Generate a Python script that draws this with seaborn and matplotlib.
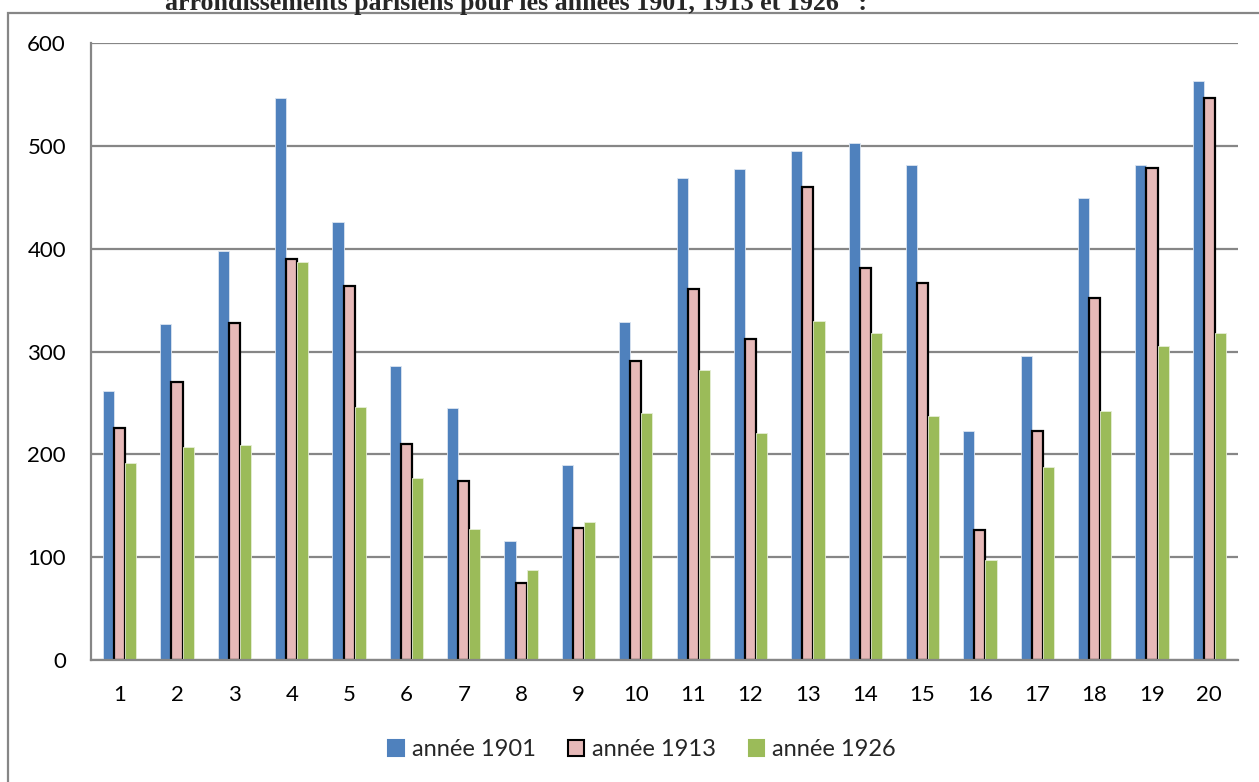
import pandas as pd
from matplotlib import pyplot as plt
from matplotlib.patches import Rectangle
import seaborn as sns

arrondissements = [str(i) for i in range(1, 21)]
years = ["année 1901", "année 1913", "année 1926"]
v1901 = [262, 327, 398, 547, 426, 286, 245, 116, 190, 329, 469, 477, 495, 503, 481, 223, 296, 449, 481, 563]
v1913 = [226, 270, 328, 390, 364, 210, 174, 75, 128, 291, 361, 312, 460, 381, 367, 126, 223, 352, 478, 547]
v1926 = [192, 207, 209, 387, 246, 177, 127, 88, 134, 240, 282, 221, 330, 318, 237, 97, 188, 242, 305, 318]
colors = ["#4F81BD", "#E6B9B8", "#9BBB59"]

rows = []
for year, vals in zip(years, [v1901, v1913, v1926]):
    for a, v in zip(arrondissements, vals):
        rows.append({"arr": a, "val": v, "year": year})
df = pd.DataFrame(rows)

sns.set_style("white")
plt.rcParams["font.family"] = ["Lato", "DejaVu Sans"]

fig = plt.figure(figsize=(12.59, 7.82), dpi=100)
ax = fig.add_axes([91/1259, 1 - 660/782, (1238 - 91)/1259, (660 - 43)/782])

sns.barplot(data=df, x="arr", y="val", hue="year", palette=colors,
            width=0.58, ax=ax, legend=False, saturation=1)

for i, cont in enumerate(ax.containers):
    for p in cont:
        if i == 1:
            p.set_edgecolor("black")
            p.set_linewidth(1.6)
        else:
            p.set_edgecolor("#dbe5f1" if i == 0 else "#e6eed5")
            p.set_linewidth(0.6)

ax.set_xlim(-0.5, 19.5)
ax.set_ylim(0, 600)
ax.set_yticks(range(0, 601, 100))
ax.yaxis.grid(True, color="#868686", linewidth=1.6)
ax.set_axisbelow(True)
ax.set_xlabel("")
ax.set_ylabel("")
for s in ["top", "right"]:
    ax.spines[s].set_visible(False)
for s in ["left", "bottom"]:
    ax.spines[s].set_color("#868686")
    ax.spines[s].set_linewidth(1.6)
ax.tick_params(axis="both", length=0, labelsize=16, colors="black")
ax.tick_params(axis="y", pad=18)
ax.tick_params(axis="x", pad=18)

handles = [Rectangle((0, 0), 1, 1, facecolor=c, edgecolor="black" if i == 1 else c, linewidth=1.5)
           for i, c in enumerate(colors)]
fig.legend(handles, years, loc="center", bbox_to_anchor=(642/1259, 1 - 750/782), ncol=3,
           frameon=False, fontsize=17, handlelength=0.64, handleheight=0.64,
           handletextpad=0.34, columnspacing=1.4, borderpad=0)

# cadre du graphique
fig.patches.append(Rectangle((8/1259, -0.05), 1.1, 1 - 13/782 + 0.05, transform=fig.transFigure,
                             fill=False, edgecolor="#868686", linewidth=1.6))

fig.text(165/1259, 1 - 10/782, "arrondissements parisiens pour les années 1901, 1913 et 1926   :",
         family="Liberation Serif", weight="bold", fontsize=18.7, va="baseline", ha="left")

plt.savefig("out.png", dpi=100)
